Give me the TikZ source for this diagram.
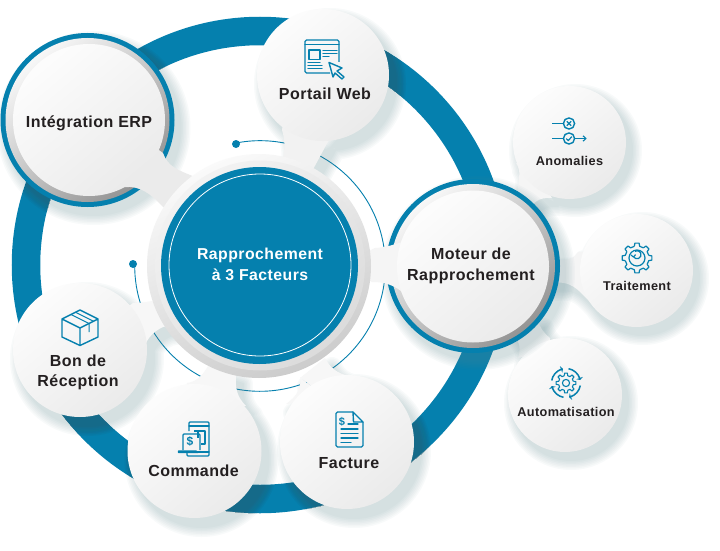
\documentclass[tikz,border=0pt]{standalone}
\usepackage{fontspec}
\setmainfont{Liberation Sans}[LetterSpace=3]
\usetikzlibrary{arrows.meta}
\definecolor{brand}{HTML}{0580AE}
\definecolor{ink}{HTML}{231F20}
\definecolor{shadowc}{HTML}{5F8B92}
\definecolor{deepblue}{HTML}{01344C}
\newcommand{\shop}{.04}
\tikzset{
 x=1pt,y=-1pt,
 icon/.style={draw=brand,line width=1.4pt,line join=round,fill=none},
 iconfine/.style={draw=brand,line width=1.2pt,line cap=round},
 label/.style={text=ink,font=\bfseries\fontsize{16}{20.5}\selectfont,align=center,inner sep=0pt},
 small/.style={text=ink,font=\bfseries\fontsize{12.7}{14}\selectfont,align=center,inner sep=0pt},
 face/.style={shading=axis,top color=white!99!black,bottom color=black!8,shading angle=40},
 rim/.style={shading=axis,top color=black!3,bottom color=black!42,shading angle=40},
}
% soft shadow of a shape #1, stacked groups of growing outline
\newcommand{\softshade}[4][shadowc]{%
 \foreach \w in {20,17,14,11,8,5,2}{%
  \begin{scope}[transparency group,opacity=\shop,shift={(#3,#4)}]
   \path[fill=#1,draw=#1,line width=\w pt,line join=round] #2;
  \end{scope}}}
\newcommand{\tailA}{(145,140) -- (163,153) .. controls (168,167) and (178,170) .. (195,177) -- (230,230) -- (163,207) .. controls (150,193) and (140,186) .. (125,187) -- cycle}
\newcommand{\tailB}{(285,110) -- (282,130) .. controls (285,140) and (285,148) .. (283,160) -- (310,175) -- (330,138) .. controls (322,138) and (315,142) .. (310,155) -- (340,120) -- cycle}
\newcommand{\tailC}{(420,240) .. controls (405,238) and (395,247) .. (375,248) -- (340,265) -- (372,282) .. controls (390,282) and (398,288) .. (410,298) -- cycle}
\newcommand{\tailD}{(535,170) -- (516,163) .. controls (522,172) and (518,178) .. (518,190) -- (530,210) .. controls (533,203) and (538,197) .. (552,198) -- cycle}
\newcommand{\tailE}{(600,250) -- (578,252) .. controls (572,262) and (565,259) .. (550,260) -- (550,283) .. controls (572,280) and (578,290) .. (590,302) -- cycle}
\newcommand{\tailF}{(550,350) -- (550,338) .. controls (543,332) and (540,328) .. (538,320) -- (510,330) .. controls (518,340) and (522,345) .. (518,358) -- cycle}
\newcommand{\tailG}{(110,320) -- (133,303) .. controls (143,303) and (150,302) .. (165,298) -- (200,320) -- (163,327) .. controls (155,331) and (150,335) .. (146,343) -- cycle}
\newcommand{\tailH}{(185,400) -- (187,383) .. controls (195,382) and (202,377) .. (208,366) -- (236,375) .. controls (235,388) and (237,397) .. (246,406) -- cycle}
\newcommand{\tailI}{(330,400) -- (300,377) .. controls (302,388) and (297,396) .. (286,404) -- cycle (300,378) -- (325,358) .. controls (330,368) and (338,374) .. (350,376) -- (330,400) -- cycle}
\begin{document}
\begin{tikzpicture}
\useasboundingbox (0,0) rectangle (720,551);
\fill[white] (0,0) rectangle (720,551);
% main ring
\draw[brand,line width=28.5pt] (260,265) circle (234);
\begin{scope}
 \renewcommand{\shop}{.06}
 \clip (508.3,265) arc[start angle=0,end angle=360,radius=248.3] -- (479.7,265) arc[start angle=360,end angle=0,radius=219.7] -- cycle;
 \softshade[deepblue]{(323,75) circle (66)}{7}{9}
 \softshade[deepblue]{(87.5,120) circle (87)}{6}{8}
 \softshade[deepblue]{(80,350) circle (67)}{7}{9}
 \softshade[deepblue]{(194.5,451) circle (67)}{7}{9}
 \softshade[deepblue]{(347,442) circle (67)}{7}{9}
\end{scope}
% thin orbit with its dots
\draw[brand,line width=.9pt] (260,266) ++(-101:125.3) arc[start angle=-101,end angle=181,radius=125.3];
\fill[brand] (236,144) circle (4);
\fill[brand] (133,264) circle (4);

% Satellite bubbles
\softshade{(569.5,142.5) circle (56.5) \tailD}{6}{8}
\softshade{(636.5,270.5) circle (56.5) \tailE}{6}{8}
\softshade{(565,395) circle (57) \tailF}{6}{8}
\fill[white!96!black] \tailD;
\fill[white!96!black] \tailE;
\fill[white!96!black] \tailF;
\node[circle,minimum size=113pt,inner sep=0pt,face] (anom) at (569.5,142.5) {};
\node[circle,minimum size=113pt,inner sep=0pt,face] (trait) at (636.5,270.5) {};
\node[circle,minimum size=114pt,inner sep=0pt,face] (auto) at (565,395) {};

% Portail Web
\softshade{(323,75) circle (66) \tailB}{7}{9}
\fill[white!95!black] \tailB;
\node[circle,minimum size=132pt,inner sep=0pt,face] (web) at (323,75) {};

% Integration ERP
\softshade{(87.5,120) circle (87)}{6}{8}
\fill[brand] (87.5,120) circle (87);
\shade[rim] (87.5,120) circle (82);
\fill[white!92!black] \tailA;
\node[circle,minimum size=152pt,inner sep=0pt,face] (erp) at (89,120) {};

% Bon de reception, Commande, Facture
\softshade{(80,350) circle (67) \tailG}{7}{9}
\fill[white!97!black] \tailG;
\node[circle,minimum size=134pt,inner sep=0pt,face] (bon) at (80,350) {};
\softshade{(194.5,451) circle (67) \tailH}{7}{9}
\fill[white!97!black] \tailH;
\node[circle,minimum size=134pt,inner sep=0pt,face] (cmd) at (194.5,451) {};
\softshade{(347,442) circle (67) \tailI}{7}{9}
\fill[white!97!black] \tailI;
\node[circle,minimum size=134pt,inner sep=0pt,face] (fact) at (347,442) {};

% Moteur
\softshade{(473,266) circle (87)}{5}{7}
\fill[brand] (473,266) circle (87);
\shade[rim] (473,266) circle (82);
\fill[white!96!black] \tailC;
\node[circle,minimum size=152pt,inner sep=0pt,face] (mot) at (473,266.5) {};

% Centre
\shade[shading=axis,top color=white!98!black,bottom color=black!20,shading angle=25] (259,266) circle (112);
\shade[shading=axis,top color=black!5,bottom color=black!14,shading angle=40] (260,265.5) circle (105);
\fill[brand] (259.5,265.5) circle (98.5);
\draw[white,line width=.8pt] (260,265) circle (91);

% Labels
\node[label] (terp) at (89,123.5) {Intégration ERP};
\node[label] (tweb) at (325,94) {Portail Web};
\node[label] (tmot) at (471,266) {Moteur de\\Rapprochement};
\node[label] (tbon) at (78,372.5) {Bon de\\Réception};
\node[label] (tcmd) at (193.5,471) {Commande};
\node[label] (tfact) at (349,463) {Facture};
\node[small] (tanom) at (569.5,160.5) {Anomalies};
\node[small] (ttrait) at (637,285.5) {Traitement};
\node[small] (tauto) at (566,411.5) {Automatisation};
\node[label,text=white,font=\bfseries\fontsize{15.8}{21}\selectfont] (tcen) at (260,264.5) {Rapprochement\\à 3 Facteurs};

% Icon: browser
\draw[icon,rounded corners=1.5pt] (330,73) -- (305,73) -- (305,40) -- (339,40) -- (339,62);
\draw[iconfine] (305,44.5) -- (339,44.5);
\draw[icon] (309,50) rectangle (320,59.5);
\draw[iconfine] (323,50.5) -- (337,50.5) (323,53.5) -- (337,53.5) (323,56.5) -- (329,56.5)
 (308,62.5) -- (320,62.5) (308,65.5) -- (322,65.5) (308,68.5) -- (322,68.5);
\draw[icon] (329,62.5) -- (342,68) -- (337,71) -- (344,77) -- (342,79) -- (335,73) -- (333,77) -- cycle;
% Icon: anomalies
\draw[icon] (569,123.5) circle (5.6) (569,138.5) circle (5.6);
\draw[icon] (552,123.5) -- (563.5,123.5) (552,138.5) -- (563.5,138.5) (574.5,138.5) -- (586,138.5);
\draw[icon,line width=1.1pt] (583,135.8) -- (586,138.5) -- (583,141.2);
\draw[icon,line width=1.2pt] (566.8,121.3) -- (571.2,125.7) (571.2,121.3) -- (566.8,125.7);
\draw[icon,line width=1.2pt] (566.2,138.6) -- (568.3,140.6) -- (571.8,136.6);
% Icon: gear with return arrow
\begin{scope}[shift={(637,258)}]
 \foreach \a in {0,45,...,315}{
  \draw[icon,line width=1.2pt] (\a-13:12) -- (\a-8:15) -- (\a+8:15) -- (\a+13:12) -- (\a+32:12);
 }
 \draw[icon,line width=1.2pt] (0,0) circle (8);
 \draw[icon,line width=1.2pt] (-3.6,-1.6) arc[start angle=156,end angle=-120,radius=4];
 \draw[icon,line width=1.1pt] (-6,-3) -- (-3.6,-1) -- (-1.4,-3.4);
\end{scope}
% Icon: automation gear
\begin{scope}[shift={(566,383)}]
 \foreach \a in {10,100,190,280}{
  \draw[icon,line width=1.5pt] (\a:14.5) arc[start angle=\a,end angle=\a+62,radius=14.5];
  \fill[brand] (\a+68:14.5) -- (\a+60:18) -- (\a+60:11) -- cycle;
 }
 \foreach \a in {0,45,...,315}{
  \draw[icon,line width=1.1pt] (\a-13:7.5) -- (\a-8:10) -- (\a+8:10) -- (\a+13:7.5) -- (\a+32:7.5);
 }
 \draw[icon,line width=1.1pt] (0,0) circle (3.6);
\end{scope}
% Icon: parcel
\draw[icon] (80,310) -- (98,319) -- (98,337) -- (80,345.5) -- (62,337) -- (62,319) -- cycle
 (62,319) -- (80,328) -- (98,319) (80,328) -- (80,345.5);
\draw[icon,line width=1pt] (71,314.5) -- (89,323.5) -- (89,332) (75.5,312.3) -- (93.5,321.3);
% Icon: phone and bill
\draw[icon,rounded corners=1pt] (189,431) -- (189,422) -- (209,422) -- (209,456) -- (187,456) -- (187,451);
\draw[iconfine] (189,426) -- (209,426) (189,452) -- (209,452);
\draw[icon] (194,431) -- (205,431) -- (205,444) -- (201,444);
\draw[icon,rounded corners=1pt] (183,450) -- (183,434) -- (200,434) -- (200,450);
\draw[icon] (198,431) -- (198,438);
\node[inner sep=0pt,text=brand,font=\bfseries\fontsize{12}{12}\selectfont] (dollarA) at (190,441) {\$};
\draw[icon,line width=1.2pt] (178.5,451) -- (196,451) -- (198,452.5) -- (178.5,452.5) -- cycle;
% Icon: invoice
\draw[icon,rounded corners=1.5pt] (353,412) -- (336,412) -- (336,447) -- (363,447) -- (363,422);
\draw[icon,line join=round] (353,412) -- (363,422) -- (353.5,422) -- cycle;
\node[inner sep=0pt,text=brand,font=\bfseries\fontsize{11}{11}\selectfont] (dollarB) at (342,421.5) {\$};
\draw[iconfine] (348,424) -- (358,424) (341,429) -- (358,429) (341,433.5) -- (358,433.5)
 (341,438) -- (358,438) (341,442.5) -- (351,442.5);
\end{tikzpicture}
\end{document}
